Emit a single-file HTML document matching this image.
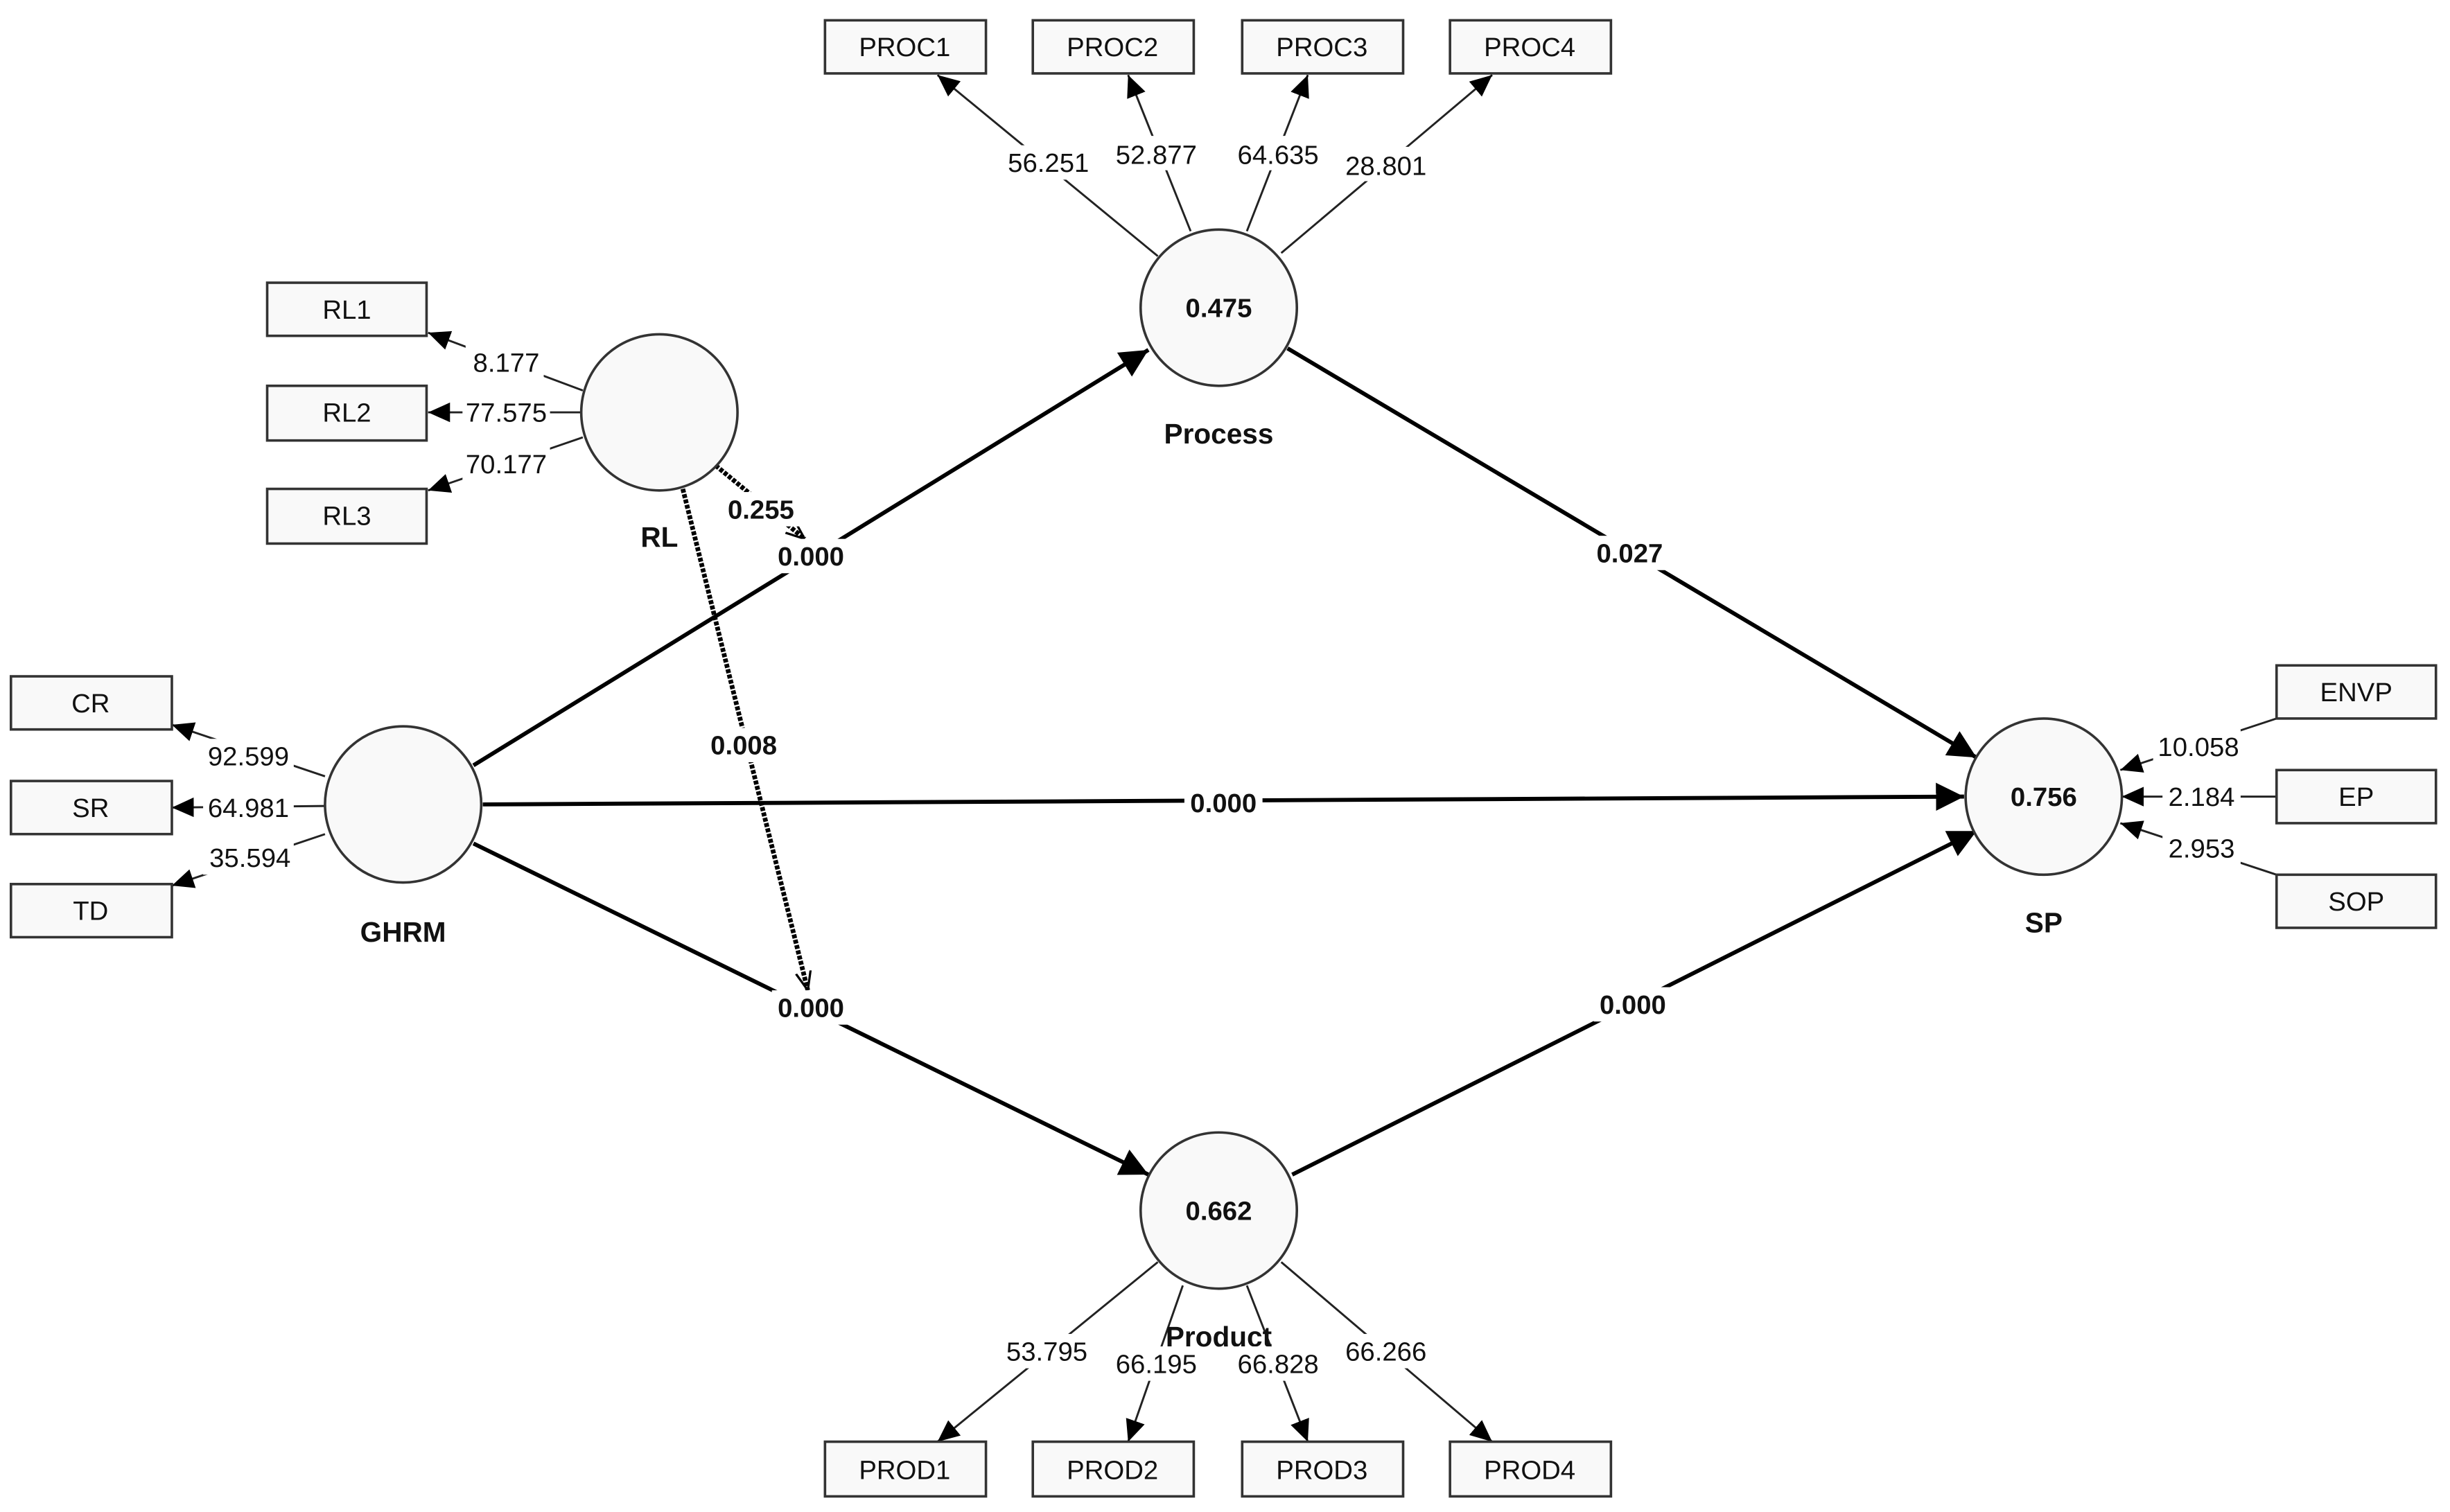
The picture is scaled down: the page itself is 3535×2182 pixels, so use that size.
<!DOCTYPE html>
<html><head><meta charset="utf-8"><style>
html,body{margin:0;padding:0;background:#fff;}
svg{display:block;}
text{font-family:"Liberation Sans Narrow","Liberation Sans",Arial,sans-serif;fill:#111;}
</style></head><body>
<svg width="3535" height="2182" viewBox="0 0 1568 968" preserveAspectRatio="none" xmlns="http://www.w3.org/2000/svg">
<defs>
<marker id="s" viewBox="0 0 10 10" refX="10" refY="5" markerWidth="14" markerHeight="14" orient="auto" markerUnits="userSpaceOnUse"><path d="M0,0.5 L10,5 L0,9.5 z" fill="#000"/></marker>
<marker id="b" viewBox="0 0 10 10" refX="10" refY="5" markerWidth="18" markerHeight="18" orient="auto" markerUnits="userSpaceOnUse"><path d="M0,0 L10,5 L0,10 z" fill="#000"/></marker>
<marker id="o" viewBox="0 0 10 10" refX="10" refY="5" markerWidth="12" markerHeight="12" orient="auto" markerUnits="userSpaceOnUse"><path d="M0,1 L10,5 L0,9" fill="none" stroke="#000" stroke-width="1.2"/></marker>
</defs>
<rect width="1568" height="968" fill="#fff"/>

<g stroke="#000" stroke-width="2.6" fill="none">
<line x1="303" y1="490" x2="735" y2="224" marker-end="url(#b)"/>
<line x1="309" y1="515" x2="1257" y2="510" marker-end="url(#b)"/>
<line x1="303" y1="540" x2="735" y2="752" marker-end="url(#b)"/>
<line x1="824" y1="223" x2="1265" y2="485" marker-end="url(#b)"/>
<line x1="827" y1="752" x2="1265" y2="532" marker-end="url(#b)"/>
</g>
<g stroke="#000" stroke-width="3" fill="none" stroke-dasharray="2.5,1">
<line x1="458" y1="298" x2="515" y2="345" marker-end="url(#o)"/>
<line x1="437" y1="313" x2="517" y2="634" marker-end="url(#o)"/>
</g>

<g stroke="#222" stroke-width="1.3" fill="none">
<line x1="373" y1="250" x2="274" y2="213" marker-end="url(#s)"/>
<line x1="372" y1="264" x2="274" y2="264" marker-end="url(#s)"/>
<line x1="373" y1="280" x2="274" y2="314" marker-end="url(#s)"/>
<line x1="208" y1="497" x2="110" y2="464" marker-end="url(#s)"/>
<line x1="208" y1="516" x2="110" y2="517" marker-end="url(#s)"/>
<line x1="208" y1="534" x2="110" y2="567" marker-end="url(#s)"/>
<line x1="1457" y1="460" x2="1357" y2="493" marker-end="url(#s)"/>
<line x1="1457" y1="510" x2="1358" y2="510" marker-end="url(#s)"/>
<line x1="1457" y1="560" x2="1357" y2="527" marker-end="url(#s)"/>
<line x1="741" y1="164" x2="600" y2="48" marker-end="url(#s)"/>
<line x1="762" y1="148" x2="722" y2="48" marker-end="url(#s)"/>
<line x1="798" y1="148" x2="837" y2="48" marker-end="url(#s)"/>
<line x1="820" y1="162" x2="955" y2="48" marker-end="url(#s)"/>
<line x1="741" y1="808" x2="600" y2="923" marker-end="url(#s)"/>
<line x1="757" y1="823" x2="722" y2="923" marker-end="url(#s)"/>
<line x1="798" y1="823" x2="837" y2="923" marker-end="url(#s)"/>
<line x1="820" y1="808" x2="955" y2="923" marker-end="url(#s)"/>
</g>

<g fill="#f9f9f9" stroke="#333" stroke-width="1.6">
<rect x="528" y="13" width="103" height="34"/><rect x="661" y="13" width="103" height="34"/><rect x="795" y="13" width="103" height="34"/><rect x="928" y="13" width="103" height="34"/>
<rect x="528" y="923" width="103" height="35"/><rect x="661" y="923" width="103" height="35"/><rect x="795" y="923" width="103" height="35"/><rect x="928" y="923" width="103" height="35"/>
<rect x="171" y="181" width="102" height="34"/><rect x="171" y="247" width="102" height="35"/><rect x="171" y="313" width="102" height="35"/>
<rect x="7" y="433" width="103" height="34"/><rect x="7" y="500" width="103" height="34"/><rect x="7" y="566" width="103" height="34"/>
<rect x="1457" y="426" width="102" height="34"/><rect x="1457" y="493" width="102" height="34"/><rect x="1457" y="560" width="102" height="34"/>
</g>
<g font-size="17" text-anchor="middle">
<text x="579" y="36">PROC1</text><text x="712" y="36">PROC2</text><text x="846" y="36">PROC3</text><text x="979" y="36">PROC4</text>
<text x="579" y="947">PROD1</text><text x="712" y="947">PROD2</text><text x="846" y="947">PROD3</text><text x="979" y="947">PROD4</text>
<text x="222" y="204">RL1</text><text x="222" y="270">RL2</text><text x="222" y="336">RL3</text>
<text x="58" y="456">CR</text><text x="58" y="523">SR</text><text x="58" y="589">TD</text>
<text x="1508" y="449">ENVP</text><text x="1508" y="516">EP</text><text x="1508" y="583">SOP</text>
</g>

<g fill="#f9f9f9" stroke="#333" stroke-width="1.6">
<circle cx="422" cy="264" r="50"/><circle cx="780" cy="197" r="50"/><circle cx="258" cy="515" r="50"/><circle cx="1308" cy="510" r="50"/><circle cx="780" cy="775" r="50"/>
</g>
<g font-size="17" font-weight="bold" text-anchor="middle">
<text x="780" y="203">0.475</text><text x="1308" y="516">0.756</text><text x="780" y="781">0.662</text>
<text x="780" y="284" font-size="18">Process</text><text x="422" y="350" font-size="18">RL</text><text x="258" y="603" font-size="18">GHRM</text><text x="1308" y="597" font-size="18">SP</text><text x="780" y="862" font-size="18">Product</text>
</g>

<g font-size="17" text-anchor="middle">
<g fill="#fff"><rect x="645" y="93" width="54" height="22"/><rect x="709" y="87" width="54" height="22"/><rect x="790" y="87" width="54" height="22"/><rect x="858" y="94" width="58" height="22"/>
<rect x="641" y="854" width="58" height="22"/><rect x="709" y="862" width="58" height="22"/><rect x="789" y="862" width="58" height="22"/><rect x="858" y="854" width="58" height="22"/>
<rect x="298" y="220" width="50" height="22"/><rect x="296" y="253" width="56" height="22"/><rect x="296" y="286" width="56" height="22"/>
<rect x="130" y="473" width="58" height="22"/><rect x="130" y="506" width="58" height="22"/><rect x="130" y="538" width="58" height="22"/>
<rect x="1378" y="467" width="56" height="22"/><rect x="1384" y="499" width="50" height="22"/><rect x="1384" y="532" width="50" height="22"/>
<rect x="494" y="345" width="50" height="22"/><rect x="1018" y="343" width="50" height="22"/><rect x="758" y="503" width="50" height="22"/><rect x="494" y="634" width="50" height="22"/><rect x="1020" y="632" width="50" height="22"/><rect x="462" y="315" width="50" height="22"/><rect x="451" y="466" width="50" height="22"/></g>
<text x="671" y="110">56.251</text><text x="740" y="105">52.877</text><text x="818" y="105">64.635</text><text x="887" y="112">28.801</text>
<text x="670" y="871">53.795</text><text x="740" y="879">66.195</text><text x="818" y="879">66.828</text><text x="887" y="871">66.266</text>
<text x="324" y="238">8.177</text><text x="324" y="270">77.575</text><text x="324" y="303">70.177</text>
<text x="159" y="490">92.599</text><text x="159" y="523">64.981</text><text x="160" y="555">35.594</text>
<text x="1407" y="484">10.058</text><text x="1409" y="516">2.184</text><text x="1409" y="549">2.953</text>
</g>
<g font-size="17" font-weight="bold" text-anchor="middle">
<text x="519" y="362">0.000</text><text x="1043" y="360">0.027</text><text x="783" y="520">0.000</text><text x="519" y="651">0.000</text><text x="1045" y="649">0.000</text><text x="487" y="332">0.255</text><text x="476" y="483">0.008</text>
</g>
</svg>
</body></html>
